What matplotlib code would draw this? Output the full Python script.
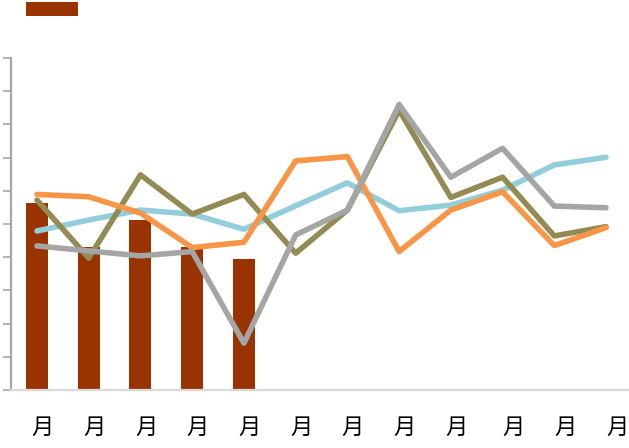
import matplotlib
matplotlib.use("Agg")
import matplotlib.pyplot as plt
import matplotlib.transforms as mtransforms
import numpy as np

plt.rcParams['font.family'] = ['Noto Sans CJK SC', 'DejaVu Sans']

months = list(range(1, 13))
month_labels = ["月"] * 12
label_digits = [1, 1, 1, 1, 1, 1, 1, 1, 1, 2, 2, 2]  # digits missing before 月

bar_values = [5.62, 4.32, 5.12, 4.32, 3.94]

blue = [4.79, 5.12, 5.42, 5.30, 4.84, 5.55, 6.24, 5.40, 5.57, 6.02, 6.78, 7.01]
olive = [5.72, 3.97, 6.48, 5.30, 5.89, 4.12, 5.42, 8.43, 5.80, 6.41, 4.64, 4.92]
orange = [5.89, 5.82, 5.33, 4.29, 4.45, 6.90, 7.03, 4.17, 5.42, 5.97, 4.35, 4.89]
grey = [4.34, 4.19, 4.04, 4.17, 1.41, 4.67, 5.42, 8.60, 6.41, 7.28, 5.54, 5.49]

W, H = 629, 448
fig = plt.figure(figsize=(W / 100, H / 100), dpi=100)
left_px, right_px = 11.14, 631.9
bottom_px, top_px = 390, 58
ax = fig.add_axes([left_px / W, (H - bottom_px) / H,
                   (right_px - left_px) / W, (bottom_px - top_px) / H])

bars = ax.bar(months[:len(bar_values)], bar_values, width=0.425,
              color="#993300", zorder=1)

lw = 4.0
ax.plot(months, blue, color="#92CDDC", lw=lw, zorder=2, solid_capstyle='round')
ax.plot(months, olive, color="#948A54", lw=lw, zorder=3, solid_capstyle='round')
ax.plot(months, orange, color="#F79646", lw=lw, zorder=4, solid_capstyle='round')
ax.plot(months, grey, color="#A5A5A5", lw=lw, zorder=5, solid_capstyle='round')

ax.set_xlim(0.5, 12.5)
ax.set_ylim(0, 10)
ax.set_yticks(np.arange(0, 11, 1))
ax.set_yticklabels([])
ax.set_xticks([])

for s in ['top', 'right']:
    ax.spines[s].set_visible(False)
ax.spines['left'].set_color('#A6A6A6')
ax.spines['left'].set_linewidth(1.6)
ax.spines['bottom'].set_color('#D9D9D9')
ax.spines['bottom'].set_linewidth(1.6)
ax.tick_params(axis='y', direction='out', length=6, width=1.2, color='#A6A6A6')

trans_base = mtransforms.blended_transform_factory(ax.transData, ax.transAxes)
for m, lab, nd in zip(months, month_labels, label_digits):
    off = mtransforms.ScaledTranslation(5.5 * nd / 100, -37.5 / 100, fig.dpi_scale_trans)
    ax.text(m, 0, lab, transform=trans_base + off, ha='center', va='center',
            fontsize=16, color='#000000')

fs = 10
px_per_font = fs * 100 / 72
leg = fig.legend([bars], [''], loc='upper left',
                 bbox_to_anchor=(26 / W, 1 - 2.5 / H),
                 bbox_transform=fig.transFigure,
                 frameon=False, borderpad=0, borderaxespad=0,
                 handletextpad=0, fontsize=fs,
                 handlelength=52 / px_per_font, handleheight=15 / px_per_font)

fig.savefig("out.png", dpi=100)
